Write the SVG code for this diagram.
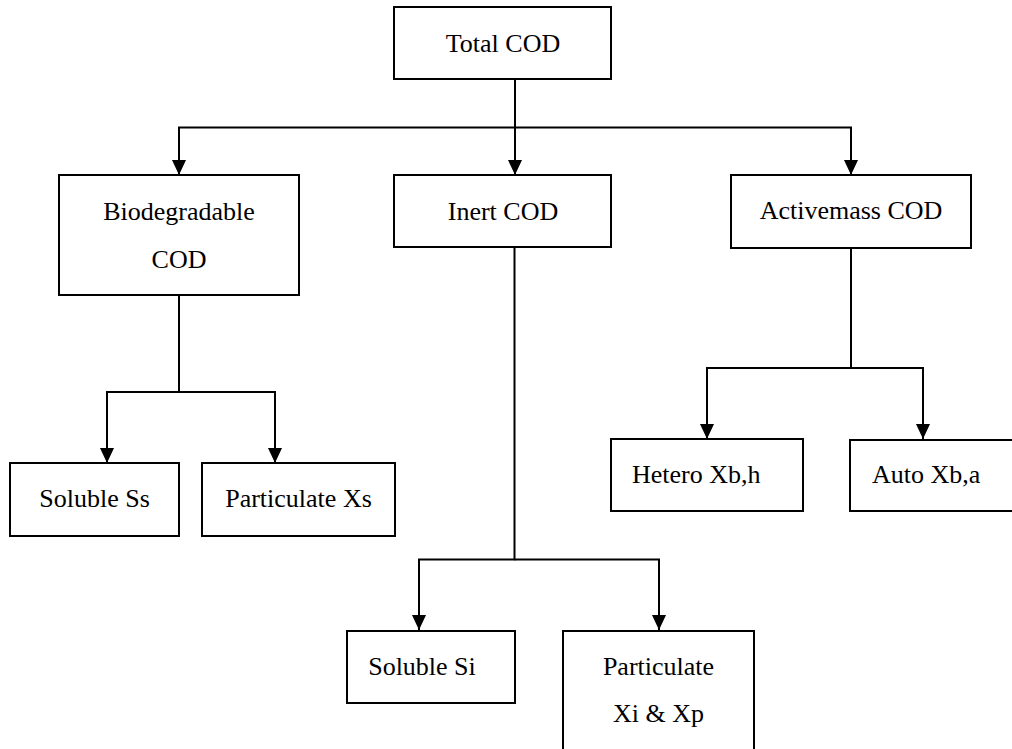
<svg xmlns="http://www.w3.org/2000/svg" width="1012" height="749" viewBox="0 0 1012 749">
<style>
.box{fill:#fff;stroke:#000;stroke-width:2}
.lbl{font-family:"Liberation Serif","Times New Roman",serif;font-size:26px;fill:#000;text-anchor:middle}
.con{fill:none;stroke:#000;stroke-width:2}
</style>
<defs>
<marker id="arr" markerUnits="userSpaceOnUse" viewBox="0 0 15 14" markerWidth="15" markerHeight="14" refX="15" refY="7" orient="auto">
<path d="M0,0 L15,7 L0,14 z" fill="#000"/>
</marker>
</defs>
<rect width="1012" height="749" fill="#fff"/>
<g id="connectors">
<path class="con" d="M515,79 V175" marker-end="url(#arr)"/>
<path class="con" d="M179,175 V127.5 H851 V175" marker-end="url(#arr)"/>
<path class="con" d="M179,127.5 V175" marker-end="url(#arr)"/>
<path class="con" d="M179,295 V392 H107 V463" marker-end="url(#arr)"/>
<path class="con" d="M179,392 H275 V463" marker-end="url(#arr)"/>
<path class="con" d="M514.5,247 V559.5 H419 V630" marker-end="url(#arr)"/>
<path class="con" d="M514.5,559.5 H659 V630" marker-end="url(#arr)"/>
<path class="con" d="M851,248 V368 H707 V439" marker-end="url(#arr)"/>
<path class="con" d="M851,368 H923 V439" marker-end="url(#arr)"/>
</g>
<g id="total">
<rect class="box" x="394" y="7" width="217" height="72"/>
<text class="lbl" x="503" y="52">Total COD</text>
</g>
<g id="biodegradable">
<rect class="box" x="59" y="175" width="240" height="120"/>
<text class="lbl" x="179" y="220">Biodegradable</text>
<text class="lbl" x="179" y="268">COD</text>
</g>
<g id="inert">
<rect class="box" x="394" y="175" width="217" height="72"/>
<text class="lbl" x="503" y="220">Inert COD</text>
</g>
<g id="activemass">
<rect class="box" x="731" y="175" width="240" height="73"/>
<text class="lbl" x="851" y="219">Activemass COD</text>
</g>
<g id="solubleSs">
<rect class="box" x="10" y="463" width="169" height="73"/>
<text class="lbl" x="94.5" y="507">Soluble Ss</text>
</g>
<g id="particulateXs">
<rect class="box" x="202" y="463" width="193" height="73"/>
<text class="lbl" x="298.5" y="507">Particulate Xs</text>
</g>
<g id="hetero">
<rect class="box" x="611" y="439" width="192" height="72"/>
<text class="lbl" x="632" y="483" style="text-anchor:start">Hetero Xb,h</text>
</g>
<g id="auto">
<rect class="box" x="850" y="440" width="180" height="71"/>
<text class="lbl" x="872" y="483" style="text-anchor:start">Auto Xb,a</text>
</g>
<g id="solubleSi">
<rect class="box" x="347" y="631" width="168" height="72"/>
<text class="lbl" x="422" y="675">Soluble Si</text>
</g>
<g id="particulateXi">
<rect class="box" x="563" y="631" width="191" height="130"/>
<text class="lbl" x="658.5" y="675">Particulate</text>
<text class="lbl" x="658.5" y="722">Xi &amp; Xp</text>
</g>
</svg>
